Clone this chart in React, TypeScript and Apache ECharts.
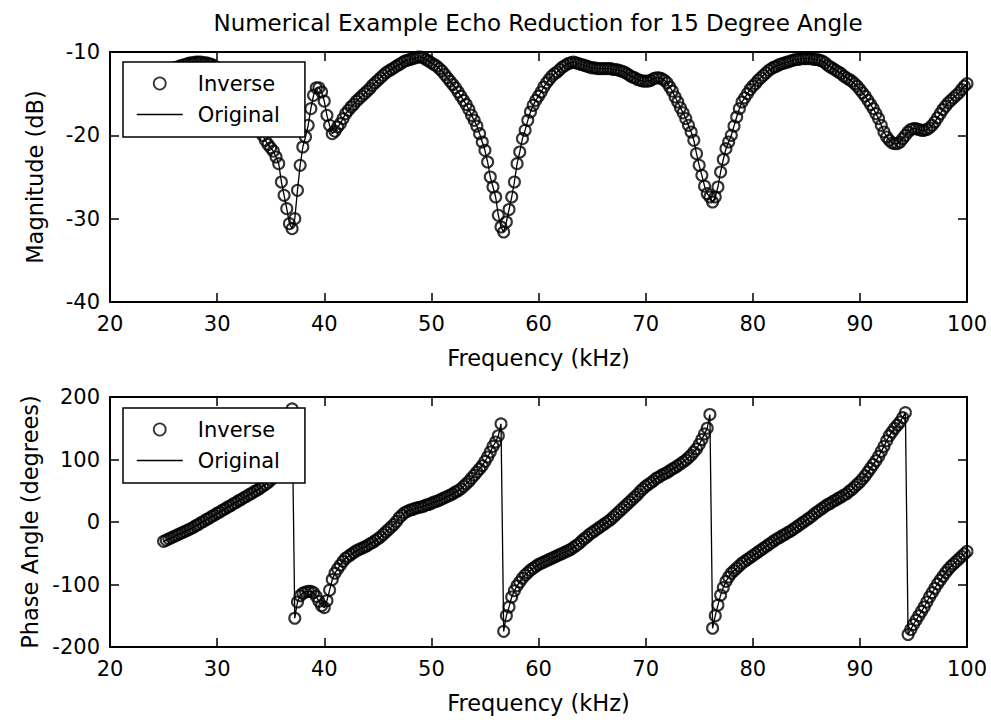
import React, { useEffect, useRef } from "react";
import * as echarts from "echarts";

// Frequency sampling of the measured curves (kHz)
const FREQ_START_KHZ = 25;
const FREQ_STEP_KHZ = 0.25;

// Magnitude (dB), one row per kHz: f, f+0.25, f+0.5, f+0.75
const magnitudeDb = [
  -12.6, -12.4, -12.2, -12.0, // 25
  -11.9, -11.8, -11.7, -11.6, // 26
  -11.5, -11.4, -11.3, -11.3, // 27
  -11.2, -11.2, -11.2, -11.3, // 28
  -11.3, -11.4, -11.5, -11.7, // 29
  -11.9, -12.1, -12.4, -12.7, // 30
  -13.0, -13.4, -13.8, -14.2, // 31
  -14.7, -15.2, -15.7, -16.3, // 32
  -16.9, -17.5, -18.1, -18.8, // 33
  -19.4, -20.0, -20.6, -21.1, // 34
  -21.5, -21.9, -22.6, -23.4, // 35
  -25.6, -27.2, -28.8, -30.6, // 36
  -31.2, -30.0, -26.6, -23.6, // 37
  -21.4, -20.2, -18.8, -16.8, // 38
  -15.2, -14.3, -14.3, -14.8, // 39
  -15.9, -17.6, -18.8, -19.8, // 40
  -19.5, -19.0, -18.6, -18.0, // 41
  -17.4, -17.0, -16.6, -16.3, // 42
  -15.9, -15.6, -15.3, -15.0, // 43
  -14.7, -14.4, -14.0, -13.7, // 44
  -13.4, -13.1, -12.8, -12.5, // 45
  -12.3, -12.1, -11.9, -11.7, // 46
  -11.5, -11.3, -11.1, -11.0, // 47
  -10.9, -10.8, -10.7, -10.6, // 48
  -10.6, -10.7, -10.9, -11.1, // 49
  -11.3, -11.5, -11.7, -12.0, // 50
  -12.3, -12.7, -13.1, -13.5, // 51
  -13.9, -14.3, -14.8, -15.3, // 52
  -15.8, -16.3, -16.9, -17.6, // 53
  -18.2, -18.9, -19.8, -20.8, // 54
  -21.8, -23.2, -25.0, -26.2, // 55
  -27.4, -29.6, -31.0, -31.6, // 56
  -30.4, -28.9, -27.4, -25.6, // 57
  -23.4, -22.0, -20.4, -19.4, // 58
  -18.2, -17.2, -16.4, -15.8, // 59
  -15.3, -14.8, -14.2, -13.7, // 60
  -13.3, -12.9, -12.6, -12.4, // 61
  -12.1, -11.8, -11.6, -11.4, // 62
  -11.3, -11.2, -11.3, -11.4, // 63
  -11.5, -11.6, -11.7, -11.8, // 64
  -11.9, -11.9, -12.0, -12.0, // 65
  -12.0, -12.0, -12.0, -12.0, // 66
  -12.1, -12.1, -12.2, -12.3, // 67
  -12.4, -12.6, -12.8, -13.0, // 68
  -13.1, -13.3, -13.4, -13.5, // 69
  -13.5, -13.5, -13.4, -13.2, // 70
  -13.1, -13.1, -13.2, -13.4, // 71
  -13.7, -14.2, -14.7, -15.4, // 72
  -16.0, -16.7, -17.3, -18.0, // 73
  -18.8, -19.6, -20.6, -22.2, // 74
  -23.6, -24.8, -26.1, -27.0, // 75
  -27.4, -28.0, -27.4, -26.2, // 76
  -24.4, -22.9, -21.6, -20.8, // 77
  -20.0, -18.9, -17.8, -16.8, // 78
  -16.0, -15.5, -15.0, -14.5, // 79
  -14.1, -13.8, -13.4, -13.1, // 80
  -12.8, -12.5, -12.2, -12.0, // 81
  -11.8, -11.7, -11.5, -11.4, // 82
  -11.3, -11.2, -11.1, -11.0, // 83
  -10.9, -10.9, -10.8, -10.8, // 84
  -10.8, -10.8, -10.8, -10.9, // 85
  -10.9, -11.0, -11.1, -11.3, // 86
  -11.6, -11.8, -12.0, -12.2, // 87
  -12.4, -12.6, -12.9, -13.1, // 88
  -13.3, -13.5, -13.8, -14.1, // 89
  -14.5, -14.9, -15.3, -15.8, // 90
  -16.3, -16.8, -17.4, -18.0, // 91
  -18.8, -19.6, -20.2, -20.6, // 92
  -20.9, -21.0, -21.0, -20.8, // 93
  -20.4, -20.0, -19.6, -19.3, // 94
  -19.2, -19.2, -19.3, -19.4, // 95
  -19.4, -19.3, -19.1, -18.8, // 96
  -18.4, -17.9, -17.4, -16.9, // 97
  -16.5, -16.1, -15.8, -15.5, // 98
  -15.2, -14.9, -14.5, -14.1, // 99
  -13.8, // 100
];

// Phase angle (degrees), same sampling
const phaseDeg = [
  -31, -29, -27, -25, // 25
  -23, -21, -19, -17, // 26
  -15, -13, -11, -9, // 27
  -6, -4, -1, 1, // 28
  4, 6, 9, 11, // 29
  14, 16, 19, 21, // 30
  24, 26, 29, 31, // 31
  34, 36, 39, 41, // 32
  44, 46, 49, 51, // 33
  54, 57, 60, 63, // 34
  67, 71, 76, 82, // 35
  89, 98, 110, 130, // 36
  181, -154, -128, -118, // 37
  -114, -112, -111, -111, // 38
  -113, -119, -127, -134, // 39
  -137, -126, -109, -92, // 40
  -82, -75, -69, -63, // 41
  -58, -55, -52, -49, // 42
  -46, -44, -42, -40, // 43
  -38, -35, -33, -30, // 44
  -27, -24, -20, -16, // 45
  -12, -8, -4, 1, // 46
  7, 11, 15, 17, // 47
  19, 20, 22, 23, // 48
  24, 25, 27, 28, // 49
  30, 32, 33, 35, // 50
  37, 39, 41, 43, // 51
  45, 48, 50, 53, // 52
  57, 61, 65, 70, // 53
  75, 80, 85, 90, // 54
  97, 104, 112, 121, // 55
  128, 138, 157, -175, // 56
  -150, -136, -120, -110, // 57
  -102, -96, -90, -85, // 58
  -81, -77, -74, -71, // 59
  -68, -66, -64, -62, // 60
  -60, -58, -56, -54, // 61
  -52, -50, -48, -46, // 62
  -44, -41, -38, -35, // 63
  -31, -27, -24, -20, // 64
  -17, -14, -11, -8, // 65
  -5, -2, 1, 4, // 66
  8, 12, 16, 20, // 67
  24, 28, 32, 36, // 68
  40, 44, 49, 53, // 69
  57, 60, 63, 66, // 70
  70, 72, 75, 77, // 71
  79, 82, 85, 87, // 72
  90, 93, 96, 99, // 73
  103, 107, 112, 117, // 74
  124, 132, 141, 150, // 75
  172, -170, -150, -133, // 76
  -117, -105, -95, -88, // 77
  -82, -78, -74, -70, // 78
  -66, -63, -60, -57, // 79
  -54, -51, -48, -45, // 80
  -42, -39, -36, -33, // 81
  -30, -27, -25, -22, // 82
  -20, -17, -15, -12, // 83
  -9, -6, -3, 0, // 84
  3, 6, 9, 13, // 85
  16, 19, 22, 25, // 86
  28, 30, 33, 35, // 87
  38, 40, 43, 45, // 88
  49, 52, 56, 60, // 89
  64, 69, 74, 80, // 90
  86, 92, 98, 105, // 91
  113, 121, 130, 138, // 92
  144, 150, 155, 160, // 93
  167, 175, -180, -172, // 94
  -164, -157, -150, -143, // 95
  -136, -128, -120, -113, // 96
  -106, -99, -93, -87, // 97
  -81, -76, -71, -67, // 98
  -63, -59, -55, -51, // 99
  -47, // 100
];

const freqKHz = magnitudeDb.map((_, i) => FREQ_START_KHZ + i * FREQ_STEP_KHZ);

const TITLE = "Numerical Example Echo Reduction for 15 Degree Angle";
const X_NAME = "Frequency (kHz)";
const MAG_NAME = "Magnitude (dB)";
const PHASE_NAME = "Phase Angle (degrees)";
const LEGEND_NAMES = ["Inverse", "Original"];

const X_RANGE = { min: 20, max: 100, interval: 10 };
const MAG_RANGE = { min: -40, max: -10, interval: 10 };
const PHASE_RANGE = { min: -200, max: 200, interval: 100 };

const FONT = "DejaVu Sans";

export default function App() {
  const ref = useRef<HTMLDivElement>(null);

  useEffect(() => {
    if (!ref.current) return;
    const chart = echarts.init(ref.current, undefined, { renderer: "svg" });

    const axisLine = { show: true, onZero: false, lineStyle: { color: "#000", width: 2 } };
    const axisTick = { show: true, inside: true, length: 9, lineStyle: { color: "#000", width: 1.5 } };
    const label = { color: "#000", fontSize: 21, fontFamily: FONT };
    const nameStyle = { color: "#000", fontSize: 22.5, fontFamily: FONT };

    const xAxisFor = (gridIndex: number) => [
      {
        type: "value",
        gridIndex,
        position: "bottom",
        ...X_RANGE,
        axisLine,
        axisTick,
        splitLine: { show: false },
        axisLabel: { ...label, margin: 11 },
        name: X_NAME,
        nameLocation: "middle",
        nameGap: 44,
        nameTextStyle: nameStyle,
      },
      {
        type: "value",
        gridIndex,
        position: "top",
        ...X_RANGE,
        axisLine,
        axisTick,
        splitLine: { show: false },
        axisLabel: { show: false },
      },
    ];

    const yAxisFor = (gridIndex: number, range: any, name: string, gap: number) => [
      {
        type: "value",
        gridIndex,
        position: "left",
        ...range,
        axisLine,
        axisTick,
        splitLine: { show: false },
        axisLabel: { ...label, margin: 10 },
        name,
        nameLocation: "middle",
        nameGap: gap,
        nameTextStyle: nameStyle,
      },
      {
        type: "value",
        gridIndex,
        position: "right",
        ...range,
        axisLine,
        axisTick,
        splitLine: { show: false },
        axisLabel: { show: false },
      },
    ];

    const circleStyle = { color: "rgba(0,0,0,0)", borderColor: "#000", borderWidth: 2.1 };

    const seriesFor = (xIdx: number, yIdx: number, values: number[]) => {
      const pts = freqKHz.map((f, i) => [f, values[i]]);
      return [
        {
          name: LEGEND_NAMES[0],
          type: "scatter",
          xAxisIndex: xIdx,
          yAxisIndex: yIdx,
          data: pts,
          symbol: "circle",
          symbolSize: 11,
          itemStyle: circleStyle,
          clip: false,
          z: 3,
        },
        {
          name: LEGEND_NAMES[1],
          type: "line",
          xAxisIndex: xIdx,
          yAxisIndex: yIdx,
          data: pts,
          symbol: "none",
          lineStyle: { color: "#000", width: 1.3 },
          itemStyle: { color: "#000" },
          clip: false,
          z: 2,
        },
      ];
    };

    const legendFor = (top: number) => ({
      orient: "vertical",
      left: 123,
      top,
      padding: [11, 25, 12, 13],
      itemGap: 10,
      itemWidth: 46,
      itemHeight: 12,
      backgroundColor: "#fff",
      borderColor: "#000",
      borderWidth: 1.5,
      selectedMode: false,
      lineStyle: { width: 1.5 },
      textStyle: { color: "#000", fontSize: 21, fontFamily: FONT, padding: [0, 0, 0, 10] },
      data: [
        { name: LEGEND_NAMES[0], icon: "circle", itemStyle: { ...circleStyle, borderWidth: 1.8 } },
        {
          name: LEGEND_NAMES[1],
          itemStyle: { color: "rgba(0,0,0,0)", borderColor: "rgba(0,0,0,0)", borderWidth: 0 },
        },
      ],
    });

    chart.setOption({
      animation: false,
      backgroundColor: "#fff",
      title: {
        text: TITLE,
        left: 538,
        top: 11,
        padding: 0,
        textAlign: "center",
        textStyle: { color: "#000", fontSize: 23, fontWeight: "normal", fontFamily: FONT },
      },
      legend: [legendFor(62), legendFor(408)],
      grid: [
        { left: 110, right: 24, top: 52, height: 250 },
        { left: 110, right: 24, top: 397, height: 250 },
      ],
      xAxis: [...xAxisFor(0), ...xAxisFor(1)],
      yAxis: [
        ...yAxisFor(0, MAG_RANGE, MAG_NAME, 64),
        ...yAxisFor(1, PHASE_RANGE, PHASE_NAME, 69),
      ],
      series: [...seriesFor(0, 0, magnitudeDb), ...seriesFor(2, 2, phaseDeg)],
    });

    return () => chart.dispose();
  }, []);

  return (
    <div
      ref={ref}
      style={{ position: "fixed", left: 0, top: 0, width: 991, height: 722, background: "#fff" }}
    />
  );
}
